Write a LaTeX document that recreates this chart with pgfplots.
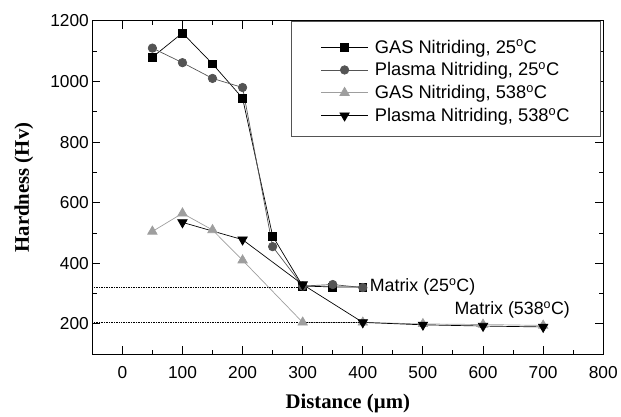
\documentclass[border=0pt]{standalone}
\usepackage{pgfplots}
\pgfplotsset{compat=1.18}
\usepackage{fontspec}
\setmainfont{Liberation Sans}
\newfontfamily\serifbf{Liberation Serif}
\definecolor{darkg}{gray}{0.33}
\definecolor{lightg}{gray}{0.62}
\newcommand\pad{\rule{26bp}{0pt}}
% legend sample: invisible box sets the row height, visible line starts 27bp in
\newcommand\legimg[2]{%
  \path[draw=none, fill=none, mark=none] (0bp,#1) rectangle (79bp,#2);
  \draw[mark repeat=2, mark phase=2] plot coordinates {(27bp,0bp) (50.5bp,0bp) (74bp,0bp)};}
\begin{document}
\begin{tikzpicture}
\begin{axis}[
    scale only axis,
    width=515bp, height=336bp,
    xmin=-50, xmax=800,
    ymin=100, ymax=1200,
    xtick={0,100,...,800},
    ytick={200,400,...,1200},
    minor xtick={-50,50,150,...,750},
    minor ytick={100,300,...,1100},
    tick align=inside,
    major tick length=8bp,
    minor tick length=4.5bp,
    axis line style={line width=1.2pt},
    every tick/.style={black, line width=1pt},
    /pgf/number format/assume math mode=true,
    /pgf/number format/1000 sep={},
    scaled ticks=false,
    tick label style={font=\fontsize{17.5}{19}\selectfont},
    xticklabel style={yshift=-9bp},
    xlabel={\serifbf\bfseries Distance (\textmu m)},
    ylabel={\serifbf\bfseries Hardness (Hv)},
    label style={font=\fontsize{21}{23}\selectfont},
    xlabel style={at={(axis description cs:0.5,-0.1637)}, anchor=base},
    ylabel style={at={(axis description cs:-0.1340,0.5)}, anchor=center},
    legend style={at={(0.995,1)}, anchor=north east, draw=darkg, line width=1pt,
        font=\fontsize{18.5}{20}\selectfont, inner xsep=3bp, inner ysep=1bp,
        row sep=0bp},
    legend image code/.code={\legimg{-11.5bp}{11.5bp}},
    legend cell align=left,
]
\addplot[black, line width=0.7pt, mark=square*, mark size=4pt, mark options={solid},
    legend image code/.code={\legimg{-11.5bp}{25bp}}] coordinates {
    (50,1080) (100,1160) (150,1058) (200,945) (250,490) (300,325) (350,322) (400,322)
};
\addlegendentry{GAS Nitriding, 25$^{\mathrm{o}}$C\pad}
\addplot[darkg, line width=0.7pt, mark=*, mark size=4.3pt, mark options={fill=darkg}] coordinates {
    (50,1110) (100,1062) (150,1010) (200,980) (250,455) (300,325) (350,330) (400,320)
};
\addlegendentry{Plasma Nitriding, 25$^{\mathrm{o}}$C\pad}
\addplot[lightg, line width=0.7pt, mark=triangle*, mark size=5.5pt, mark options={fill=lightg}] coordinates {
    (50,505) (100,565) (150,510) (200,410) (300,205) (400,205) (500,200) (600,198) (700,195)
};
\addlegendentry{GAS Nitriding, 538$^{\mathrm{o}}$C\pad}
\addplot[black, line width=0.7pt, mark=triangle*, mark size=5.5pt, mark options={rotate=180, fill=black},
    legend image code/.code={\legimg{-20bp}{11.5bp}}] coordinates {
    (100,535) (200,478) (300,330) (400,205) (500,197) (600,193) (700,190)
};
\addlegendentry{Plasma Nitriding, 538$^{\mathrm{o}}$C\pad}
\addplot[black, densely dotted, line width=0.7pt, forget plot] coordinates {(-50,320) (300,320)};
\addplot[black, densely dotted, line width=0.7pt, forget plot] coordinates {(-50,205) (400,205)};
\node[anchor=west, font=\fontsize{18}{20}\selectfont] at (axis cs:406,323) {Matrix (25$^{\mathrm{o}}$C)};
\node[anchor=west, font=\fontsize{18}{20}\selectfont] at (axis cs:547,245) {Matrix (538$^{\mathrm{o}}$C)};
\end{axis}
\path (current axis.south west) ++(-93bp,-54bp) rectangle ++(621bp,411bp);
\end{tikzpicture}
\end{document}
